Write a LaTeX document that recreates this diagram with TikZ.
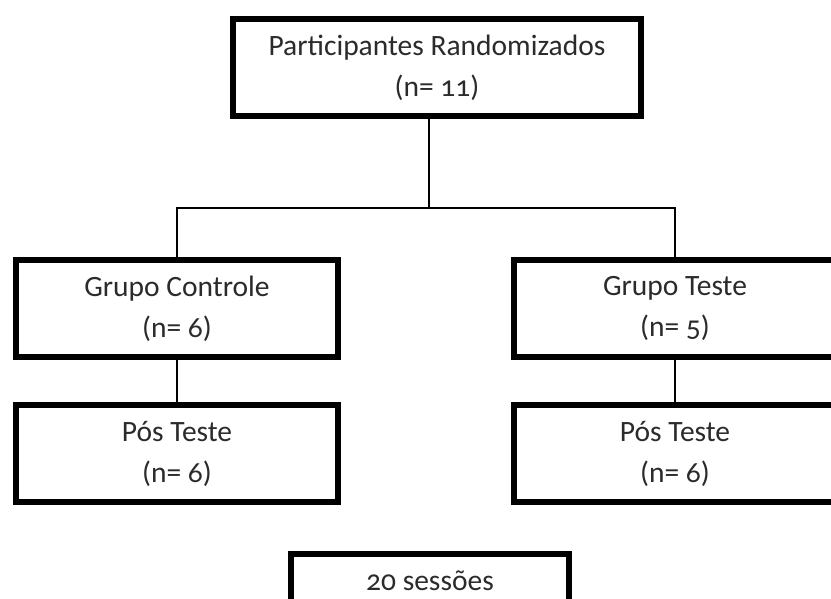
\documentclass[tikz,border=0pt]{standalone}
\usepackage{fontspec}
\setmainfont{Carlito}[Numbers=OldStyle]
\usetikzlibrary{positioning}
\definecolor{txtg}{HTML}{2b2b2b}

\begin{document}
\begin{tikzpicture}[x=1pt, y=-1pt,
            caixa/.style={rectangle, draw = black, line width=5.5pt, fill = white, text = txtg,
                align=center, inner sep=0pt, font=\fontsize{29.5}{41}\selectfont},
            grande/.style={caixa, minimum width=408pt, minimum height=97pt},
            grupo/.style={caixa, minimum width=322pt, minimum height=97pt},
            liga/.style={draw = black, line width=1.6pt}]
        \clip (0,0) rectangle (831,599);
        \fill[white] (0,0) rectangle (831,599);
        \node[grande] (part) at (437,67.5) {Participantes Randomizados\\(n= 11)};
        \node[grupo] (gc) at (177,308.5) {Grupo Controle\\(n= 6)};
        \node[grupo] (gt) at (675,308.5) {Grupo Teste\\(n= 5)};
        \node[grupo] (pc) at (177,453.5) {Pós Teste\\(n= 6)};
        \node[grupo] (pt) at (675,453.5) {Pós Teste\\(n= 6)};
        \node[caixa, anchor=north, minimum width=278pt, inner ysep=8.5pt,
            text height=28.5pt, text depth=51.5pt] (sess) at (430,551) {20 sessões};
        \coordinate (bus) at (429,208);
        \draw[liga] (bus |- part.south) -- (bus);
        \draw[liga] (gc.north) |- (bus) -| (gt.north);
        \draw[liga] (gc.south) -- (pc.north);
        \draw[liga] (gt.south) -- (pt.north);
\end{tikzpicture}
\end{document}
